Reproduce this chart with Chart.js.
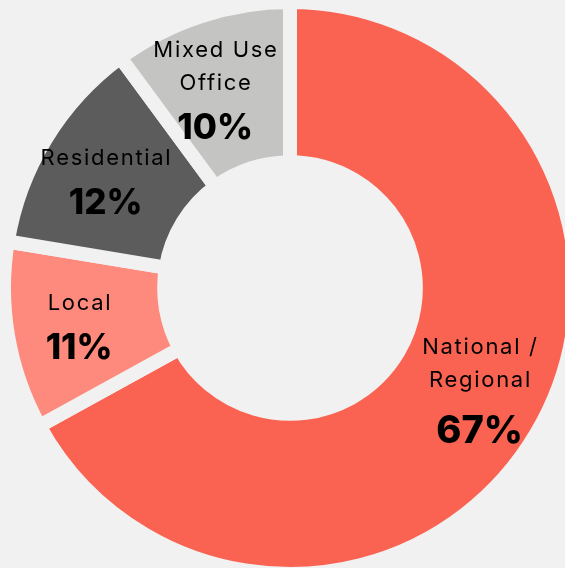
<!DOCTYPE html>
<html><head><meta charset="utf-8">
<script src="https://cdn.jsdelivr.net/npm/chart.js@4.4.0/dist/chart.umd.min.js"></script>
<style>html,body{margin:0;padding:0;background:#f1f1f1;}canvas{display:block}</style>
</head><body>
<canvas id="c" width="565" height="568"></canvas>
<script>
const categories = ["National / Regional", "Local", "Residential", "Mixed Use Office"];
const labelLines = [["National /", "Regional"], ["Local"], ["Residential"], ["Mixed Use", "Office"]];
const values = [67, 10.6, 12.3, 10.1];
const colors = ["#fa6352", "#fd8a7c", "#5c5c5c", "#c4c4c2"];
const labelAngleNudge = [-3, 0, -1, -2.3];
const pageBg = "#f1f1f1";
const gap = 14;
const fontFamily = "Inter, 'Noto Sans', sans-serif";

const sliceLabels = {
  id: 'sliceLabels',
  afterDatasetsDraw(chart) {
    const ctx = chart.ctx;
    const meta = chart.getDatasetMeta(0);
    meta.data.forEach((arc, i) => {
      const p = arc.getProps(['x', 'y', 'startAngle', 'endAngle', 'innerRadius', 'outerRadius'], true);
      const inner = p.innerRadius + gap / 2, outer = p.outerRadius - gap / 2;
      const mid = (p.startAngle + p.endAngle) / 2 + labelAngleNudge[i] * Math.PI / 180;
      const r = inner + 0.555 * (outer - inner);
      const cx = p.x + Math.cos(mid) * r;
      const cy = p.y + Math.sin(mid) * r;
      const lines = labelLines[i];
      const big = i === 0;
      const pctSize = big ? 38 : 35;
      const lineStep = 33;
      const pctStep = big ? 50 : 44;
      const span = (lines.length - 1) * lineStep + pctStep;
      const top = cy - span / 2;
      const ls = 1.7;
      ctx.save();
      ctx.fillStyle = '#000';
      ctx.textAlign = 'center';
      ctx.textBaseline = 'alphabetic';
      ctx.font = `400 22px ${fontFamily}`;
      ctx.letterSpacing = ls + 'px';
      const capL = ctx.measureText('H').actualBoundingBoxAscent;
      lines.forEach((t, k) => {
        ctx.fillText(t, cx + ls / 2, top + k * lineStep + capL / 2);
      });
      ctx.font = `800 ${pctSize}px ${fontFamily}`;
      ctx.letterSpacing = '0px';
      const capP = ctx.measureText('0').actualBoundingBoxAscent;
      const pct = Math.round(values[i]) + '%';
      ctx.fillText(pct, cx, top + span + capP / 2);
      ctx.restore();
    });
  }
};

new Chart(document.getElementById('c'), {
  type: 'doughnut',
  data: {
    labels: categories,
    datasets: [{
      data: values,
      backgroundColor: colors,
      borderColor: pageBg,
      borderWidth: gap,
      borderAlign: 'center',
      hoverOffset: 0
    }]
  },
  options: {
    responsive: false,
    animation: false,
    radius: 286,
    cutout: '44%',
    rotation: 0,
    layout: { padding: { left: 15, top: 8, right: 0, bottom: 0 } },
    plugins: { legend: { display: false }, tooltip: { enabled: false } },
    events: []
  },
  plugins: [sliceLabels]
});
</script>
</body></html>
